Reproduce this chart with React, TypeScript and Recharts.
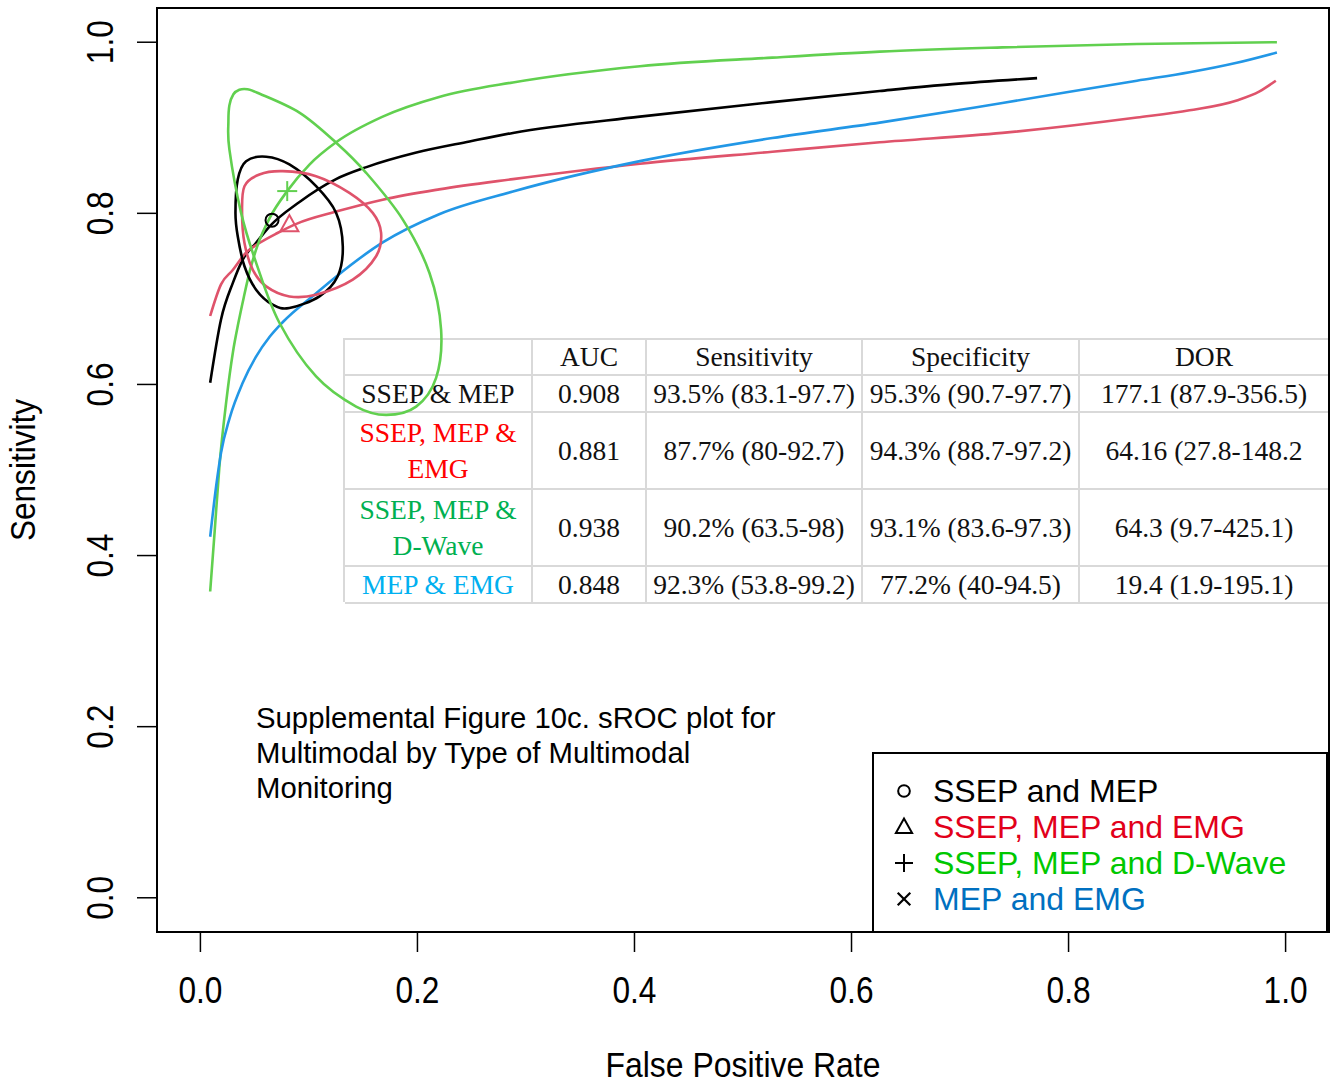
import React from "react";
import { ComposedChart, Line, XAxis, YAxis, ReferenceArea, ReferenceDot } from "recharts";

type Pt = { fpr: number; sens: number };
const toPts = (rows: number[][]): Pt[] => rows.map(([fpr, sens]) => ({ fpr, sens }));

// summary ROC curves
const ssepMepCurve = toPts([
  [0.009, 0.602], [0.019, 0.676], [0.030, 0.719], [0.039, 0.746], [0.051, 0.765], [0.064, 0.785],
  [0.091, 0.813], [0.125, 0.840], [0.153, 0.854], [0.199, 0.871], [0.248, 0.884], [0.288, 0.894],
  [0.405, 0.913], [0.527, 0.930], [0.626, 0.943], [0.693, 0.951], [0.771, 0.958],
]);
const ssepMepEmgCurve = toPts([
  [0.009, 0.680], [0.019, 0.717], [0.030, 0.734], [0.042, 0.754], [0.054, 0.765], [0.071, 0.777],
  [0.089, 0.788], [0.125, 0.802], [0.168, 0.816], [0.220, 0.828], [0.288, 0.840], [0.405, 0.858],
  [0.527, 0.872], [0.626, 0.883], [0.739, 0.894], [0.863, 0.912], [0.9115, 0.9204], [0.955, 0.932],
  [0.976, 0.9426], [0.991, 0.955],
]);
const ssepMepDwaveCurve = toPts([
  [0.009, 0.358], [0.013, 0.426], [0.0175, 0.504], [0.024, 0.582], [0.030, 0.638], [0.035, 0.672],
  [0.040, 0.702], [0.046, 0.735], [0.0525, 0.762], [0.064, 0.795], [0.080, 0.826], [0.1005, 0.857],
  [0.125, 0.883], [0.168, 0.913], [0.220, 0.936], [0.288, 0.953], [0.405, 0.972], [0.527, 0.982],
  [0.626, 0.989], [0.739, 0.994], [0.863, 0.998], [0.992, 1.0],
]);
const mepEmgCurve = toPts([
  [0.009, 0.422], [0.0145, 0.481], [0.019, 0.520], [0.027, 0.561], [0.039, 0.602], [0.051, 0.632],
  [0.064, 0.656], [0.076, 0.673], [0.107, 0.707], [0.125, 0.726], [0.168, 0.766], [0.220, 0.799],
  [0.288, 0.8255], [0.405, 0.861], [0.527, 0.888], [0.626, 0.906], [0.739, 0.929], [0.863, 0.955],
  [0.9115, 0.9649], [0.955, 0.976], [0.992, 0.988],
]);

// 95% confidence regions
const ssepMepRegion = toPts([
  [0.0344, 0.8396], [0.0421, 0.861], [0.0606, 0.8662], [0.082, 0.8571], [0.1066, 0.8317],
  [0.1251, 0.8005], [0.1312, 0.7615], [0.1265, 0.7264], [0.1097, 0.703], [0.082, 0.6893],
  [0.0666, 0.6932], [0.0513, 0.7108], [0.0406, 0.7381], [0.0344, 0.7732], [0.0323, 0.8005],
]);
const ssepMepEmgRegion = toPts([
  [0.0406, 0.8317], [0.0544, 0.8454], [0.0759, 0.8493], [0.1066, 0.8434], [0.1373, 0.8239],
  [0.1588, 0.8005], [0.1665, 0.7771], [0.1619, 0.7498], [0.1404, 0.7225], [0.1066, 0.7049],
  [0.082, 0.7029], [0.0606, 0.7146], [0.0482, 0.7342], [0.0406, 0.7654], [0.0384, 0.8005],
]);
const ssepMepDwaveRegion = toPts([
  [0.0258, 0.9075], [0.0267, 0.9262], [0.0304, 0.9391], [0.0359, 0.9444], [0.0433, 0.945],
  [0.0525, 0.9409], [0.0912, 0.9177], [0.1251, 0.8825], [0.1527, 0.8474], [0.1865, 0.7927],
  [0.2111, 0.7302], [0.2218, 0.6639], [0.2172, 0.6077], [0.1988, 0.5741], [0.1712, 0.5644],
  [0.1435, 0.5741], [0.1066, 0.6093], [0.0728, 0.6721], [0.0513, 0.7424], [0.0375, 0.8005],
  [0.0267, 0.8747],
]);

// summary operating points
const ssepMepPoint = { fpr: 0.066, sens: 0.792 };
const ssepMepEmgPoint = { fpr: 0.082, sens: 0.787 };
const ssepMepDwavePoint = { fpr: 0.08, sens: 0.826 };

const axisTicks = [0, 0.2, 0.4, 0.6, 0.8, 1.0];

const tableHeader = ["", "AUC", "Sensitivity", "Specificity", "DOR"];
const groupLabels = [["SSEP & MEP"], ["SSEP, MEP &", "EMG"], ["SSEP, MEP &", "D-Wave"], ["MEP & EMG"]];
const groupColors = ["#111111", "#ff0000", "#00b050", "#00b0f0"];
const aucValues = ["0.908", "0.881", "0.938", "0.848"];
const sensValues = ["93.5% (83.1-97.7)", "87.7% (80-92.7)", "90.2% (63.5-98)", "92.3% (53.8-99.2)"];
const specValues = ["95.3% (90.7-97.7)", "94.3% (88.7-97.2)", "93.1% (83.6-97.3)", "77.2% (40-94.5)"];
const dorValues = ["177.1 (87.9-356.5)", "64.16 (27.8-148.2", "64.3 (9.7-425.1)", "19.4 (1.9-195.1)"];

const legendLabels = ["SSEP and MEP", "SSEP, MEP and EMG", "SSEP, MEP and D-Wave", "MEP and EMG"];
const legendColors = ["#000000", "#e2001a", "#00c800", "#0070c0"];
const legendSymbols = ["circle", "triangle", "plus", "cross"];

const LINE_COLORS = { black: "#000000", red: "#DF536B", green: "#61D04F", blue: "#2297E6" };
const SANS = "'Liberation Sans', Arial, Helvetica, sans-serif";
const SERIF = "'Liberation Serif', 'Times New Roman', serif";

// closed Catmull-Rom spline so the confidence regions come out as smooth loops
const closedSpline = (context: any) => {
  let pts: number[][] = [];
  return {
    areaStart() {},
    areaEnd() {},
    lineStart() {
      pts = [];
    },
    point(x: number, y: number) {
      pts.push([+x, +y]);
    },
    lineEnd() {
      const n = pts.length;
      if (n < 3) return;
      context.moveTo(pts[0][0], pts[0][1]);
      for (let i = 0; i < n; i++) {
        const p0 = pts[(i - 1 + n) % n];
        const p1 = pts[i];
        const p2 = pts[(i + 1) % n];
        const p3 = pts[(i + 2) % n];
        context.bezierCurveTo(
          p1[0] + (p2[0] - p0[0]) / 6,
          p1[1] + (p2[1] - p0[1]) / 6,
          p2[0] - (p3[0] - p1[0]) / 6,
          p2[1] - (p3[1] - p1[1]) / 6,
          p2[0],
          p2[1]
        );
      }
      context.closePath();
    },
  };
};

function Symbol({ kind, cx, cy, stroke, scale = 1 }: { kind: string; cx: number; cy: number; stroke: string; scale?: number }) {
  const s = scale;
  if (kind === "circle") return <circle cx={cx} cy={cy} r={6.5 * s} fill="none" stroke={stroke} strokeWidth={2} />;
  if (kind === "triangle") {
    const h = 9 * s;
    return (
      <polygon
        points={`${cx - h},${cy + h * 0.75} ${cx + h},${cy + h * 0.75} ${cx},${cy - h * 1.05}`}
        fill="none"
        stroke={stroke}
        strokeWidth={2}
      />
    );
  }
  if (kind === "plus") {
    const a = 10 * s;
    return (
      <g stroke={stroke} strokeWidth={2}>
        <line x1={cx - a} y1={cy} x2={cx + a} y2={cy} />
        <line x1={cx} y1={cy - a} x2={cx} y2={cy + a} />
      </g>
    );
  }
  const a = 7 * s;
  return (
    <g stroke={stroke} strokeWidth={2.2}>
      <line x1={cx - a} y1={cy - a} x2={cx + a} y2={cy + a} />
      <line x1={cx - a} y1={cy + a} x2={cx + a} y2={cy - a} />
    </g>
  );
}

// axis text is set narrow, so squeeze the glyphs to the drawn width
const XTick = ({ x, y, payload }: any) => (
  <text x={x} y={y + 51} textAnchor="middle" fontFamily={SANS} fontSize={36} textLength={44} lengthAdjust="spacingAndGlyphs" fill="#000">
    {Number(payload.value).toFixed(1)}
  </text>
);

const YTick = ({ x, y, payload }: any) => (
  <text
    x={x - 24}
    y={y}
    textAnchor="middle"
    transform={`rotate(-90, ${x - 24}, ${y})`}
    fontFamily={SANS}
    fontSize={36}
    textLength={44}
    lengthAdjust="spacingAndGlyphs"
    fill="#000"
  >
    {Number(payload.value).toFixed(1)}
  </text>
);

const colEdges = [343, 531, 645, 861, 1078, 1328];
const rowEdges = [338, 374, 411, 488, 565, 602];

function StatsTable() {
  const rows: { lines: string[]; color: string }[][] = [
    tableHeader.map((h) => ({ lines: [h], color: "#111" })),
    ...groupLabels.map((g, i) => [
      { lines: g, color: groupColors[i] },
      { lines: [aucValues[i]], color: "#111" },
      { lines: [sensValues[i]], color: "#111" },
      { lines: [specValues[i]], color: "#111" },
      { lines: [dorValues[i]], color: "#111" },
    ]),
  ];
  const cells: React.ReactNode[] = [];
  rows.forEach((row, r) =>
    row.forEach((cell, c) => {
      cells.push(
        <div
          key={`${r}-${c}`}
          style={{
            position: "absolute",
            left: colEdges[c] - colEdges[0],
            top: rowEdges[r] - rowEdges[0],
            width: colEdges[c + 1] - colEdges[c],
            height: rowEdges[r + 1] - rowEdges[r],
            boxSizing: "border-box",
            borderRight: "2px solid #d9d9d9",
            borderBottom: "2px solid #d9d9d9",
            display: "flex",
            flexDirection: "column",
            alignItems: "center",
            justifyContent: "center",
            overflow: "hidden",
            whiteSpace: "nowrap",
            color: cell.color,
            fontFamily: SERIF,
            fontSize: 27.5,
            lineHeight: "36px",
          }}
        >
          {cell.lines.map((t, k) => (
            <span key={k}>{t}</span>
          ))}
        </div>
      );
    })
  );
  return (
    <div
      style={{
        position: "absolute",
        left: colEdges[0],
        top: rowEdges[0],
        width: colEdges[colEdges.length - 1] - colEdges[0],
        height: rowEdges[rowEdges.length - 1] - rowEdges[0],
        boxSizing: "border-box",
        borderLeft: "2px solid #d9d9d9",
        borderTop: "2px solid #d9d9d9",
        background: "#fff",
        zIndex: 0,
      }}
    >
      {cells}
    </div>
  );
}

function LegendBox() {
  return (
    <div
      style={{
        position: "absolute",
        left: 872,
        top: 752,
        width: 456,
        height: 181,
        boxSizing: "border-box",
        border: "2px solid #000",
        background: "#fff",
        zIndex: 2,
      }}
    >
      {legendLabels.map((label, i) => (
        <div key={label} style={{ position: "absolute", left: 0, top: 19 + i * 36, height: 36, display: "flex", alignItems: "center" }}>
          <svg width={59} height={36} style={{ display: "block" }}>
            <Symbol kind={legendSymbols[i]} cx={30} cy={18} stroke="#000" scale={0.9} />
          </svg>
          <span style={{ fontFamily: SANS, fontSize: 32, color: legendColors[i], whiteSpace: "nowrap" }}>{label}</span>
        </div>
      ))}
    </div>
  );
}

export default function App() {
  return (
    <div style={{ position: "absolute", left: 0, top: 0, width: 1330, height: 1085, background: "#fff", overflow: "hidden" }}>
      <StatsTable />
      <div style={{ position: "absolute", left: 0, top: 0, zIndex: 1 }}>
        <ComposedChart width={1330} height={1085} margin={{ top: 8, right: 1, bottom: 0, left: 0 }}>
          <XAxis
            dataKey="fpr"
            type="number"
            domain={[-0.04, 1.04]}
            allowDataOverflow
            ticks={axisTicks}
            height={153}
            tickSize={20}
            tickMargin={0}
            axisLine={false}
            tickLine={{ stroke: "#000", strokeWidth: 1.5 }}
            tick={<XTick />}
            label={({ viewBox }: any) => (
              <text
                x={viewBox.x + viewBox.width / 2}
                y={viewBox.y + 145}
                textAnchor="middle"
                fontFamily={SANS}
                fontSize={35}
                textLength={275}
                lengthAdjust="spacingAndGlyphs"
                fill="#000"
              >
                False Positive Rate
              </text>
            )}
          />
          <YAxis
            type="number"
            domain={[-0.04, 1.04]}
            allowDataOverflow
            ticks={axisTicks}
            width={157}
            tickSize={20}
            tickMargin={0}
            axisLine={false}
            tickLine={{ stroke: "#000", strokeWidth: 1.5 }}
            tick={<YTick />}
            label={({ viewBox }: any) => {
              const cy = viewBox.y + viewBox.height / 2;
              return (
                <text
                  x={35}
                  y={cy}
                  textAnchor="middle"
                  transform={`rotate(-90, 35, ${cy})`}
                  fontFamily={SANS}
                  fontSize={35}
                  textLength={142}
                  lengthAdjust="spacingAndGlyphs"
                  fill="#000"
                >
                  Sensitivity
                </text>
              );
            }}
          />
          <ReferenceArea x1={-0.04} x2={1.04} y1={-0.04} y2={1.04} fill="none" stroke="#000" strokeWidth={2} ifOverflow="visible" />

          <Line data={ssepMepCurve} dataKey="sens" type="monotoneX" stroke={LINE_COLORS.black} strokeWidth={2.6} dot={false} isAnimationActive={false} />
          <Line data={ssepMepEmgCurve} dataKey="sens" type="monotoneX" stroke={LINE_COLORS.red} strokeWidth={2.6} dot={false} isAnimationActive={false} />
          <Line data={ssepMepDwaveCurve} dataKey="sens" type="monotoneX" stroke={LINE_COLORS.green} strokeWidth={2.6} dot={false} isAnimationActive={false} />
          <Line data={mepEmgCurve} dataKey="sens" type="monotoneX" stroke={LINE_COLORS.blue} strokeWidth={2.6} dot={false} isAnimationActive={false} />

          <Line data={ssepMepRegion} dataKey="sens" type={closedSpline as any} stroke={LINE_COLORS.black} strokeWidth={2.6} dot={false} isAnimationActive={false} />
          <Line data={ssepMepEmgRegion} dataKey="sens" type={closedSpline as any} stroke={LINE_COLORS.red} strokeWidth={2.6} dot={false} isAnimationActive={false} />
          <Line data={ssepMepDwaveRegion} dataKey="sens" type={closedSpline as any} stroke={LINE_COLORS.green} strokeWidth={2.6} dot={false} isAnimationActive={false} />

          <ReferenceDot x={ssepMepPoint.fpr} y={ssepMepPoint.sens} shape={(p: any) => <Symbol kind="circle" cx={p.cx} cy={p.cy} stroke={LINE_COLORS.black} />} />
          <ReferenceDot x={ssepMepEmgPoint.fpr} y={ssepMepEmgPoint.sens} shape={(p: any) => <Symbol kind="triangle" cx={p.cx} cy={p.cy} stroke={LINE_COLORS.red} />} />
          <ReferenceDot x={ssepMepDwavePoint.fpr} y={ssepMepDwavePoint.sens} shape={(p: any) => <Symbol kind="plus" cx={p.cx} cy={p.cy} stroke={LINE_COLORS.green} />} />
        </ComposedChart>
      </div>
      <div
        style={{
          position: "absolute",
          left: 256,
          top: 700,
          fontFamily: SANS,
          fontSize: 29.3,
          lineHeight: "35px",
          color: "#000",
          zIndex: 2,
          whiteSpace: "nowrap",
        }}
      >
        <div>Supplemental Figure 10c. sROC plot for</div>
        <div>Multimodal by Type of Multimodal</div>
        <div>Monitoring</div>
      </div>
      <LegendBox />
    </div>
  );
}
